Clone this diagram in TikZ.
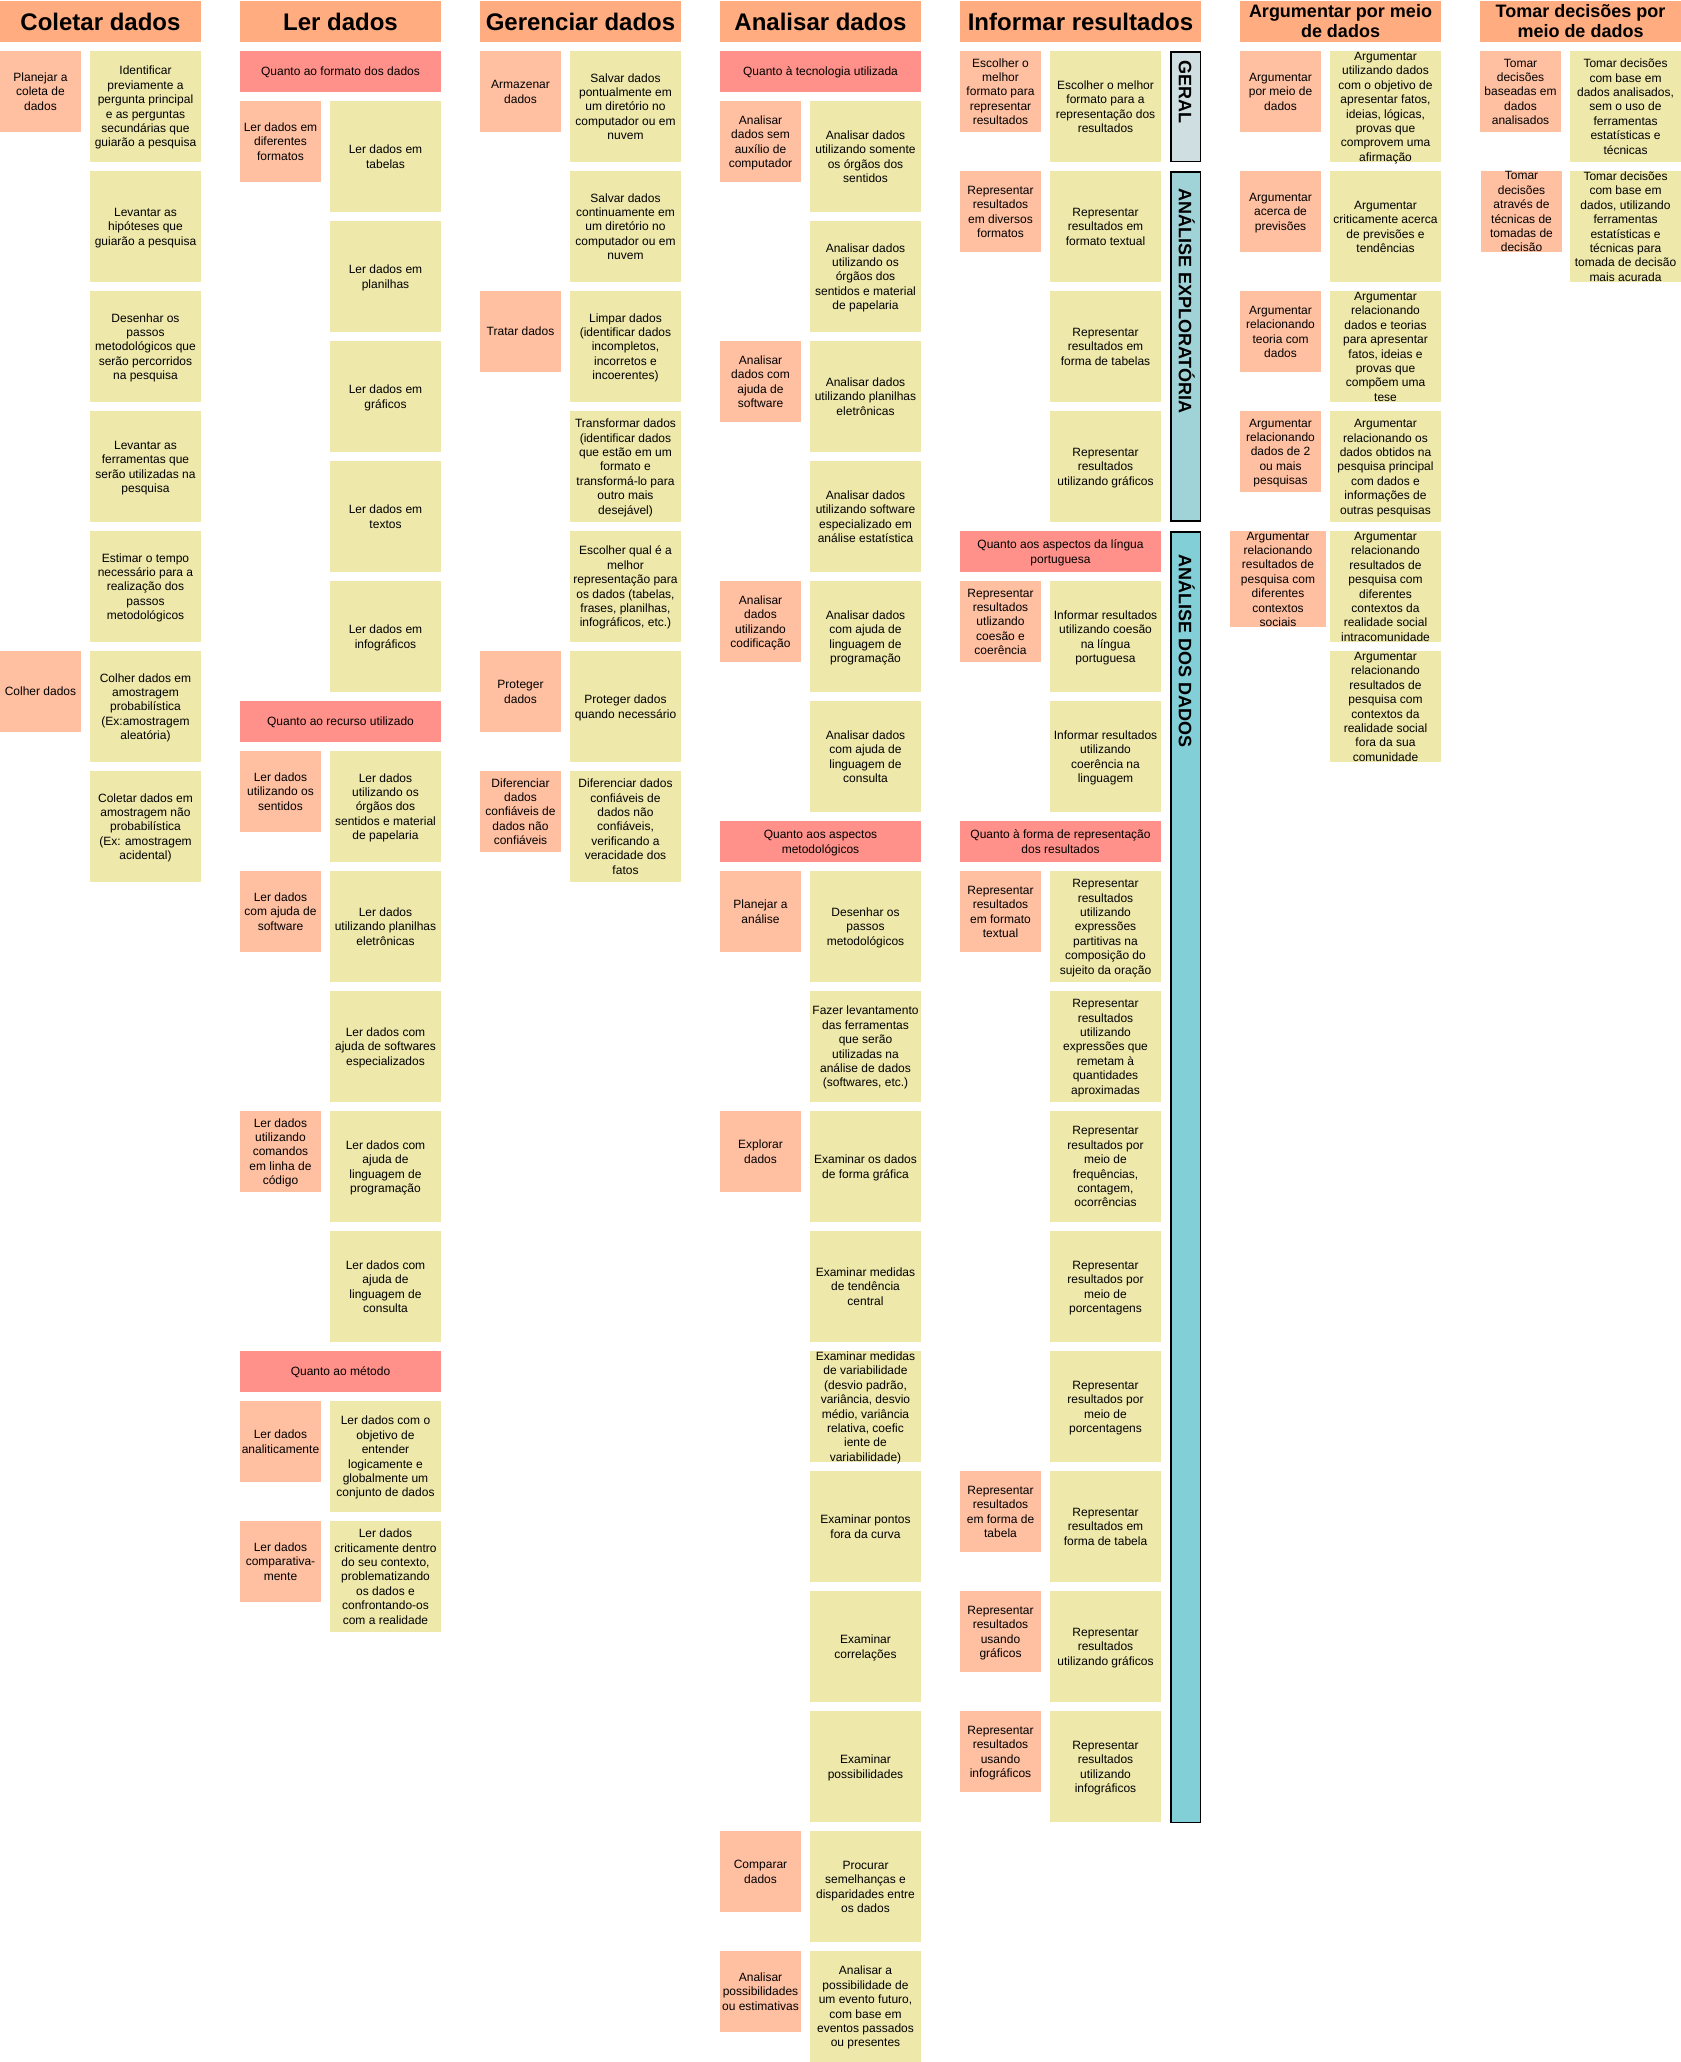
\documentclass[tikz,border=0pt]{standalone}
\usepackage{fontspec}
\setmainfont{Liberation Sans}
\definecolor{hdrc}{HTML}{FFAC80}
\definecolor{catc}{HTML}{FF918A}
\definecolor{salc}{HTML}{FFC0A2}
\definecolor{yelc}{HTML}{EEE8AA}
\definecolor{barA}{HTML}{CFDEE0}
\definecolor{barB}{HTML}{A0D3D8}
\definecolor{barC}{HTML}{82CFD8}
\tikzset{
 box/.style={inner sep=0pt, outer sep=0pt, draw=none, anchor=north west},
 hdrbox/.style={box, fill=hdrc, minimum width=201pt, minimum height=41pt},
 catbox/.style={box, fill=catc, minimum width=201pt, minimum height=41pt},
 salbox/.style={box, fill=salc, minimum width=81pt, minimum height=81pt},
 salbig/.style={box, fill=salc, minimum width=96pt, minimum height=96pt},
 yelbox/.style={box, fill=yelc, minimum width=111pt, minimum height=111pt},
 txt/.style={inner sep=0pt, align=center, yshift=-1.5pt, font=\fontsize{12}{14.4}\selectfont},
 hdtxt/.style={inner sep=0pt, font=\bfseries\fontsize{24}{27.6}\selectfont, anchor=base},
 hdtwotxt/.style={inner sep=0pt, align=center, font=\bfseries\fontsize{18}{20.7}\selectfont},
 barbox/.style={box, draw=black, line width=1.5pt, minimum width=29.5pt},
 bartxt/.style={inner sep=0pt, rotate=-90, anchor=west, font=\bfseries\fontsize{18}{20.7}\selectfont, text height=12.9pt, text depth=0pt},
}
\newcommand\crd[5]{\node[#2] (#1) at (#3,#4) {}; \node[txt] (#1t) at (#1.center) {\strut#5\strut};}
\newcommand\hdr[4]{\node[hdrbox, minimum width=#3pt] (#1) at (#2,1) {}; \node[hdtxt] (#1t) at ({#2+#3/2},30.7) {#4};}
\newcommand\hdrtwo[3]{\node[hdrbox] (#1) at (#2,1) {}; \node[hdtwotxt] (#1t) at ({#2+100.5},23.5) {\strut#3\strut};}
\begin{document}
\begin{tikzpicture}[x=1pt,y=-1pt]
\fill[white] (0,0) rectangle (1681,2062);
\useasboundingbox (0,0) rectangle (1681,2062);
% ---------------- Coletar dados
\hdr{hco}{0}{201}{Coletar dados}
\crd{co0}{salbox}{0}{51}{Planejar a\\coleta de\\dados}
\crd{co1}{yelbox}{90}{51}{Identificar\\previamente a\\pergunta principal\\e as perguntas\\secundárias que\\guiarão a pesquisa}
\crd{co2}{yelbox}{90}{171}{Levantar as\\hipóteses que\\guiarão a pesquisa}
\crd{co3}{yelbox}{90}{291}{Desenhar os\\passos\\metodológicos que\\serão percorridos\\na pesquisa}
\crd{co4}{yelbox}{90}{411}{Levantar as\\ferramentas que\\serão utilizadas na\\pesquisa}
\crd{co5}{yelbox}{90}{531}{Estimar o tempo\\necessário para a\\realização dos\\passos\\metodológicos}
\crd{co6}{salbox}{0}{651}{Colher dados}
\crd{co7}{yelbox}{90}{651}{Colher dados em\\amostragem\\probabilística\\(Ex:amostragem\\aleatória)}
\crd{co8}{yelbox}{90}{771}{Coletar dados em\\amostragem não\\probabilística\\(Ex: amostragem\\acidental)}
% ---------------- Ler dados
\hdr{hle}{240}{201}{Ler dados}
\crd{le0}{catbox}{240}{51}{Quanto ao formato dos dados}
\crd{le1}{salbox}{240}{101}{Ler dados em\\diferentes\\formatos}
\crd{le2}{yelbox}{330}{101}{Ler dados em\\tabelas}
\crd{le3}{yelbox}{330}{221}{Ler dados em\\planilhas}
\crd{le4}{yelbox}{330}{341}{Ler dados em\\gráficos}
\crd{le5}{yelbox}{330}{461}{Ler dados em\\textos}
\crd{le6}{yelbox}{330}{581}{Ler dados em\\infográficos}
\crd{le7}{catbox}{240}{701}{Quanto ao recurso utilizado}
\crd{le8}{salbox}{240}{751}{Ler dados\\utilizando os\\sentidos}
\crd{le9}{yelbox}{330}{751}{Ler dados\\utilizando os\\órgãos dos\\sentidos e material\\de papelaria}
\crd{le10}{salbox}{240}{871}{Ler dados\\com ajuda de\\software}
\crd{le11}{yelbox}{330}{871}{Ler dados\\utilizando planilhas\\eletrônicas}
\crd{le12}{yelbox}{330}{991}{Ler dados com\\ajuda de softwares\\especializados}
\crd{le13}{salbox}{240}{1111}{Ler dados\\utilizando\\comandos\\em linha de\\código}
\crd{le14}{yelbox}{330}{1111}{Ler dados com\\ajuda de\\linguagem de\\programação}
\crd{le15}{yelbox}{330}{1231}{Ler dados com\\ajuda de\\linguagem de\\consulta}
\crd{le16}{catbox}{240}{1351}{Quanto ao método}
\crd{le17}{salbox}{240}{1401}{Ler dados\\analiticamente}
\crd{le18}{yelbox}{330}{1401}{Ler dados com o\\objetivo de\\entender\\logicamente e\\globalmente um\\conjunto de dados}
\crd{le19}{salbox}{240}{1521}{Ler dados\\comparativa-\\mente}
\crd{le20}{yelbox}{330}{1521}{Ler dados\\criticamente dentro\\do seu contexto,\\problematizando\\os dados e\\confrontando-os\\com a realidade}
% ---------------- Gerenciar dados
\hdr{hge}{480}{201}{Gerenciar dados}
\crd{ge0}{salbox}{480}{51}{Armazenar\\dados}
\crd{ge1}{yelbox}{570}{51}{Salvar dados\\pontualmente em\\um diretório no\\computador ou em\\nuvem}
\crd{ge2}{yelbox}{570}{171}{Salvar dados\\continuamente em\\um diretório no\\computador ou em\\nuvem}
\crd{ge3}{salbox}{480}{291}{Tratar dados}
\crd{ge4}{yelbox}{570}{291}{Limpar dados\\(identificar dados\\incompletos,\\incorretos e\\incoerentes)}
\crd{ge5}{yelbox}{570}{411}{Transformar dados\\(identificar dados\\que estão em um\\formato e\\transformá-lo para\\outro mais\\desejável)}
\crd{ge6}{yelbox}{570}{531}{Escolher qual é a\\melhor\\representação para\\os dados (tabelas,\\frases, planilhas,\\infográficos, etc.)}
\crd{ge7}{salbox}{480}{651}{Proteger\\dados}
\crd{ge8}{yelbox}{570}{651}{Proteger dados\\quando necessário}
\crd{ge9}{salbox}{480}{771}{Diferenciar\\dados\\confiáveis de\\dados não\\confiáveis}
\crd{ge10}{yelbox}{570}{771}{Diferenciar dados\\confiáveis de\\dados não\\confiáveis,\\verificando a\\veracidade dos\\fatos}
% ---------------- Analisar dados
\hdr{han}{720}{201}{Analisar dados}
\crd{an0}{catbox}{720}{51}{Quanto à tecnologia utilizada}
\crd{an1}{salbox}{720}{101}{Analisar\\dados sem\\auxílio de\\computador}
\crd{an2}{yelbox}{810}{101}{Analisar dados\\utilizando somente\\os órgãos dos\\sentidos}
\crd{an3}{yelbox}{810}{221}{Analisar dados\\utilizando os\\órgãos dos\\sentidos e material\\de papelaria}
\crd{an4}{salbox}{720}{341}{Analisar\\dados com\\ajuda de\\software}
\crd{an5}{yelbox}{810}{341}{Analisar dados\\utilizando planilhas\\eletrônicas}
\crd{an6}{yelbox}{810}{461}{Analisar dados\\utilizando software\\especializado em\\análise estatística}
\crd{an7}{salbox}{720}{581}{Analisar\\dados\\utilizando\\codificação}
\crd{an8}{yelbox}{810}{581}{Analisar dados\\com ajuda de\\linguagem de\\programação}
\crd{an9}{yelbox}{810}{701}{Analisar dados\\com ajuda de\\linguagem de\\consulta}
\crd{an10}{catbox}{720}{821}{Quanto aos aspectos\\metodológicos}
\crd{an11}{salbox}{720}{871}{Planejar a\\análise}
\crd{an12}{yelbox}{810}{871}{Desenhar os\\passos\\metodológicos}
\crd{an13}{yelbox}{810}{991}{Fazer levantamento\\das ferramentas\\que serão\\utilizadas na\\análise de dados\\(softwares, etc.)}
\crd{an14}{salbox}{720}{1111}{Explorar\\dados}
\crd{an15}{yelbox}{810}{1111}{Examinar os dados\\de forma gráfica}
\crd{an16}{yelbox}{810}{1231}{Examinar medidas\\de tendência\\central}
\crd{an17}{yelbox}{810}{1351}{Examinar medidas\\de variabilidade\\(desvio padrão,\\variância, desvio\\médio, variância\\relativa, coefic\\iente de\\variabilidade)}
\crd{an18}{yelbox}{810}{1471}{Examinar pontos\\fora da curva}
\crd{an19}{yelbox}{810}{1591}{Examinar\\correlações}
\crd{an20}{yelbox}{810}{1711}{Examinar\\possibilidades}
\crd{an21}{salbox}{720}{1831}{Comparar\\dados}
\crd{an22}{yelbox}{810}{1831}{Procurar\\semelhanças e\\disparidades entre\\os dados}
\crd{an23}{salbox}{720}{1951}{Analisar\\possibilidades\\ou estimativas}
\crd{an24}{yelbox}{810}{1951}{Analisar a\\possibilidade de\\um evento futuro,\\com base em\\eventos passados\\ou presentes}
% ---------------- Informar resultados
\hdr{hin}{960}{241}{Informar resultados}
\crd{in0}{salbox}{960}{51}{Escolher o\\melhor\\formato para\\representar\\resultados}
\crd{in1}{yelbox}{1050}{51}{Escolher o melhor\\formato para a\\representação dos\\resultados}
\crd{in2}{salbox}{960}{171}{Representar\\resultados\\em diversos\\formatos}
\crd{in3}{yelbox}{1050}{171}{Representar\\resultados em\\formato textual}
\crd{in4}{yelbox}{1050}{291}{Representar\\resultados em\\forma de tabelas}
\crd{in5}{yelbox}{1050}{411}{Representar\\resultados\\utilizando gráficos}
\crd{in6}{catbox}{960}{531}{Quanto aos aspectos da língua\\portuguesa}
\crd{in7}{salbox}{960}{581}{Representar\\resultados\\utlizando\\coesão e\\coerência}
\crd{in8}{yelbox}{1050}{581}{Informar resultados\\utilizando coesão\\na língua\\portuguesa}
\crd{in9}{yelbox}{1050}{701}{Informar resultados\\utilizando\\coerência na\\linguagem}
\crd{in10}{catbox}{960}{821}{Quanto à forma de representação\\dos resultados}
\crd{in11}{salbox}{960}{871}{Representar\\resultados\\em formato\\textual}
\crd{in12}{yelbox}{1050}{871}{Representar\\resultados\\utilizando\\expressões\\partitivas na\\composição do\\sujeito da oração}
\crd{in13}{yelbox}{1050}{991}{Representar\\resultados\\utilizando\\expressões que\\remetam à\\quantidades\\aproximadas}
\crd{in14}{yelbox}{1050}{1111}{Representar\\resultados por\\meio de\\frequências,\\contagem,\\ocorrências}
\crd{in15}{yelbox}{1050}{1231}{Representar\\resultados por\\meio de\\porcentagens}
\crd{in16}{yelbox}{1050}{1351}{Representar\\resultados por\\meio de\\porcentagens}
\crd{in17}{salbox}{960}{1471}{Representar\\resultados\\em forma de\\tabela}
\crd{in18}{yelbox}{1050}{1471}{Representar\\resultados em\\forma de tabela}
\crd{in19}{salbox}{960}{1591}{Representar\\resultados\\usando\\gráficos}
\crd{in20}{yelbox}{1050}{1591}{Representar\\resultados\\utilizando gráficos}
\crd{in21}{salbox}{960}{1711}{Representar\\resultados\\usando\\infográficos}
\crd{in22}{yelbox}{1050}{1711}{Representar\\resultados\\utilizando\\infográficos}
% bars
\node[barbox, fill=barA, minimum height=109.5pt] (bga) at (1170.75,51.75) {};
\node[bartxt] (bgat) at (1185.4,60) {GERAL};
\node[barbox, fill=barB, minimum height=349pt] (bex) at (1170.75,171.75) {};
\node[bartxt] (bext) at (1185.4,188) {ANÁLISE EXPLORATÓRIA};
\node[barbox, fill=barC, minimum height=1290.5pt] (bda) at (1170.75,531.75) {};
\node[bartxt] (bdat) at (1185.4,554) {ANÁLISE DOS DADOS};
% ---------------- Argumentar
\hdrtwo{har}{1240}{Argumentar por meio\\de dados}
\crd{ar0}{salbox}{1240}{51}{Argumentar\\por meio de\\dados}
\crd{ar1}{yelbox}{1330}{51}{Argumentar\\utilizando dados\\com o objetivo de\\apresentar fatos,\\ideias, lógicas,\\provas que\\comprovem uma\\afirmação}
\crd{ar2}{salbox}{1240}{171}{Argumentar\\acerca de\\previsões}
\crd{ar3}{yelbox}{1330}{171}{Argumentar\\criticamente acerca\\de previsões e\\tendências}
\crd{ar4}{salbox}{1240}{291}{Argumentar\\relacionando\\teoria com\\dados}
\crd{ar5}{yelbox}{1330}{291}{Argumentar\\relacionando\\dados e teorias\\para apresentar\\fatos, ideias e\\provas que\\compõem uma\\tese}
\crd{ar6}{salbox}{1240}{411}{Argumentar\\relacionando\\dados de 2\\ou mais\\pesquisas}
\crd{ar7}{yelbox}{1330}{411}{Argumentar\\relacionando os\\dados obtidos na\\pesquisa principal\\com dados e\\informações de\\outras pesquisas}
\crd{ar8}{salbig}{1230}{531}{Argumentar\\relacionando\\resultados de\\pesquisa com\\diferentes\\contextos\\sociais}
\crd{ar9}{yelbox}{1330}{531}{Argumentar\\relacionando\\resultados de\\pesquisa com\\diferentes\\contextos da\\realidade social\\intracomunidade}
\crd{ar10}{yelbox}{1330}{651}{Argumentar\\relacionando\\resultados de\\pesquisa com\\contextos da\\realidade social\\fora da sua\\comunidade}
% ---------------- Tomar decisões
\hdrtwo{hto}{1480}{Tomar decisões por\\meio de dados}
\crd{to0}{salbox}{1480}{51}{Tomar\\decisões\\baseadas em\\dados\\analisados}
\crd{to1}{yelbox}{1570}{51}{Tomar decisões\\com base em\\dados analisados,\\sem o uso de\\ferramentas\\estatísticas e\\técnicas}
\crd{to2}{salbox}{1481}{171}{Tomar\\decisões\\através de\\técnicas de\\tomadas de\\decisão}
\crd{to3}{yelbox}{1570}{171}{Tomar decisões\\com base em\\dados, utilizando\\ferramentas\\estatísticas e\\técnicas para\\tomada de decisão\\mais acurada}
\end{tikzpicture}
\end{document}
